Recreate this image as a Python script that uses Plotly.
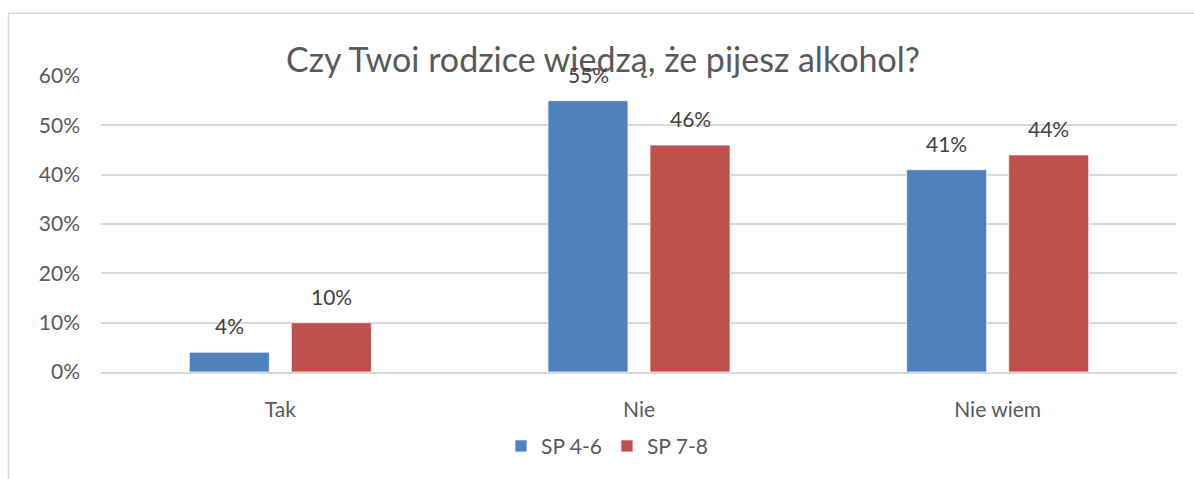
import plotly.graph_objects as go

categories = ["Tak", "Nie", "Nie wiem"]
series_names = ["SP 4-6", "SP 7-8"]
sp46 = [0.04, 0.55, 0.41]
sp78 = [0.10, 0.46, 0.44]
colors = ["#4F81BD", "#C0504D"]
y_ticks = [0, 0.1, 0.2, 0.3, 0.4, 0.5, 0.6]
title = "Czy Twoi rodzice wiedzą, że pijesz alkohol?"

FONT = "Lato"
W, H = 1194, 479
L, R, T, B = 101, 17, 76, 104

fig = go.Figure()
for name, vals, col in zip(series_names, [sp46, sp78], colors):
    fig.add_trace(go.Bar(
        name=name, x=categories, y=vals,
        marker=dict(color=col, line=dict(color="rgba(255,255,255,0.7)", width=1)),
        hoverinfo="skip",
    ))

# data labels as annotations placed above bars
offsets = [-51, 51]
for vals, dx in zip([sp46, sp78], offsets):
    for c, v in zip(categories, vals):
        fig.add_annotation(
            x=c, y=v, xref="x", yref="y", text=f"{round(v*100)}%",
            showarrow=False, xshift=dx, yanchor="bottom", yshift=12,
            font=dict(family=FONT, size=21, color="#404040"),
        )

plot_w = W - L - R
plot_h = H - T - B
fig.add_shape(
    type="rect", xref="paper", yref="paper",
    x0=(8.5 - L) / plot_w, x1=(W + 20 - L) / plot_w,
    y0=-(H + 20 - (H - B)) / plot_h, y1=1 + (T - 12.5) / plot_h,
    line=dict(color="#D9D9D9", width=1.5), fillcolor="rgba(0,0,0,0)", layer="below",
)

fig.update_layout(
    width=W, height=H,
    margin=dict(l=L, r=R, t=T, b=B),
    paper_bgcolor="white", plot_bgcolor="white",
    barmode="group", bargap=0.431, bargroupgap=0.216,
    title=dict(text=title, x=603 / W, xref="container", xanchor="center",
               y=1 - 60 / H, yref="container", yanchor="middle",
               font=dict(family=FONT, size=34, color="#595959")),
    font=dict(family=FONT, size=21, color="#595959"),
    showlegend=True,
    legend=dict(orientation="h", x=(607 - L) / plot_w, xanchor="center",
                y=-(450 - (H - B)) / plot_h, yanchor="middle",
                font=dict(family=FONT, size=21, color="#595959"),
                itemwidth=30, tracegroupgap=0),
    yaxis=dict(range=[0, 0.6], tickvals=y_ticks, tickformat=".0%",
               showgrid=True, gridcolor="#D9D9D9", gridwidth=1.5,
               zeroline=False, showline=False, ticks="", ticklabelstandoff=20,
               automargin=False,
               tickfont=dict(family=FONT, size=21, color="#595959")),
    xaxis=dict(showline=True, linecolor="#D9D9D9", linewidth=1.5, ticks="",
               ticklabelstandoff=18, automargin=False,
               tickfont=dict(family=FONT, size=21, color="#595959")),
)

fig.write_html("out.html", config={"displayModeBar": False})

# remove default browser body margin so the figure sits at the page origin
with open("out.html", "r", encoding="utf-8") as f:
    html = f.read()
html = html.replace("<body>", '<body style="margin:0;overflow:hidden">', 1)
with open("out.html", "w", encoding="utf-8") as f:
    f.write(html)
